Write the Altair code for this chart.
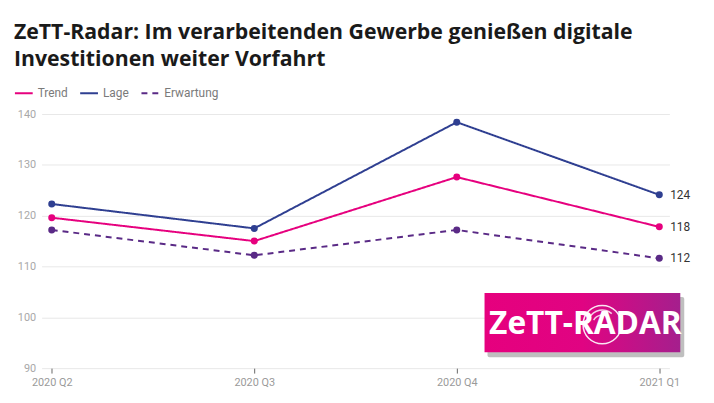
import altair as alt
import pandas as pd

quarters = ["2020 Q2", "2020 Q3", "2020 Q4", "2021 Q1"]
trend = [119.6, 115.0, 127.6, 117.8]
lage = [122.3, 117.5, 138.4, 124.1]
erwartung = [117.2, 112.2, 117.2, 111.6]
series_names = ["Trend", "Lage", "Erwartung"]
series_colors = ["#e6007e", "#2f3f91", "#5a2a86"]
title_lines = ["ZeTT-Radar: Im verarbeitenden Gewerbe genießen digitale",
               "Investitionen weiter Vorfahrt"]

rows = []
for name, vals in zip(series_names, [trend, lage, erwartung]):
    for q, v in zip(quarters, vals):
        rows.append({"Quartal": q, "Serie": name, "Wert": v})
df = pd.DataFrame(rows)

W, H = 635, 257

x_enc = alt.X("Quartal:N", sort=quarters, title=None,
              scale=alt.Scale(type="point", padding=0.05),
              axis=alt.Axis(labelAngle=0, domain=False, ticks=True, tickSize=5,
                            tickColor="#666", tickWidth=1, labelColor="#9a9a9a",
                            labelFontSize=11, labelPadding=4, grid=False,
                            labelFont="Roboto"))
y_enc = alt.Y("Wert:Q", title=None,
              scale=alt.Scale(domain=[90, 140], nice=False, zero=False),
              axis=alt.Axis(values=[90, 100, 110, 120, 130, 140], domain=False,
                            ticks=False, labelColor="#a8a8a8", labelFontSize=11,
                            labelPadding=6, gridColor="#e8e8e8", labelFont="Roboto"))
legend_def = alt.Legend(title=None, orient="none", legendX=-28, legendY=-31,
                        direction="horizontal", symbolType="stroke",
                        symbolSize=324, symbolStrokeWidth=3,
                        labelFontSize=12, labelColor="#7a7a7a",
                        labelFont="Roboto", columnPadding=8, gridAlign="none",
                        symbolOffset=0, labelOffset=4)
color_enc = alt.Color("Serie:N", sort=series_names,
                      scale=alt.Scale(domain=series_names, range=series_colors),
                      legend=legend_def)
dash_enc = alt.StrokeDash("Serie:N", sort=series_names,
                          scale=alt.Scale(domain=series_names,
                                          range=[[1, 0], [1, 0], [6, 5]]),
                          legend=legend_def)
width_enc = alt.StrokeWidth("Serie:N", sort=series_names,
                            scale=alt.Scale(domain=series_names, range=[2, 2, 3]),
                            legend=None)

base = alt.Chart(df)

lines = base.mark_line(point=alt.OverlayMarkDef(size=50, filled=True, opacity=1)).encode(
    x=x_enc, y=y_enc, color=color_enc, strokeDash=dash_enc, strokeWidth=width_enc)

end_labels = base.transform_filter(alt.datum.Quartal == quarters[-1]).mark_text(
    align="left", baseline="middle", dx=11, fontSize=12, color="#333", font="Roboto"
).encode(x=alt.X("Quartal:N", sort=quarters), y="Wert:Q", text=alt.Text("Wert:Q", format=".0f"))

title1 = alt.Chart().mark_text(align="left", baseline="alphabetic", fontSize=21.5,
                               fontWeight="bold", font="Open Sans", color="#1a1a1a",
                               text=title_lines[0]).encode(x=alt.value(-28), y=alt.value(-76))
title2 = alt.Chart().mark_text(align="left", baseline="alphabetic", fontSize=21.5,
                               fontWeight="bold", font="Open Sans", color="#1a1a1a",
                               text=title_lines[1]).encode(x=alt.value(-28), y=alt.value(-49))

# Logo badge
grad = alt.LinearGradient(gradient="linear",
                          stops=[alt.GradientStop(color="#e6007e", offset=0),
                                 alt.GradientStop(color="#e00482", offset=0.5),
                                 alt.GradientStop(color="#a51f8d", offset=1)],
                          x1=0, x2=1, y1=0, y2=0)
shadow = alt.Chart().mark_rect(color="#000", opacity=0.25, cornerRadius=2).encode(
    x=alt.value(451), x2=alt.value(650), y=alt.value(185), y2=alt.value(246))
badge = alt.Chart().mark_rect(fill=grad).encode(
    x=alt.value(448), x2=alt.value(646), y=alt.value(181), y2=alt.value(241))
badge_ring = alt.Chart().mark_point(shape="circle", size=1500, filled=False, color="white",
                                    strokeWidth=1.5, opacity=0.9).encode(
    x=alt.value(567), y=alt.value(213))
badge_ring2 = alt.Chart().mark_arc(radius=14, radius2=15.5, theta=5.2, theta2=7.0,
                                   color="white", opacity=0.8).encode(
    x=alt.value(567), y=alt.value(213))
badge_ring3 = alt.Chart().mark_arc(radius=9, radius2=10.5, theta=5.2, theta2=7.0,
                                   color="white", opacity=0.8).encode(
    x=alt.value(567), y=alt.value(213))
badge_text = alt.Chart().mark_text(align="center", baseline="middle", fontSize=32,
                                   fontWeight="bold", font="Open Sans", color="white",
                                   text="ZeTT-RADAR").encode(x=alt.value(550), y=alt.value(212))

chart = alt.layer(lines, end_labels, title1, title2, shadow, badge, badge_ring,
                  badge_ring2, badge_ring3, badge_text).properties(
    width=W, height=H,
    padding={"left": 34, "top": 105, "right": 37, "bottom": 33},
    autosize=alt.AutoSizeParams(type="none"),
    background="white",
).configure_view(stroke=None).configure_axis(labelFont="Roboto")

chart.save("out.html", embed_options={"renderer": "svg", "actions": False})
